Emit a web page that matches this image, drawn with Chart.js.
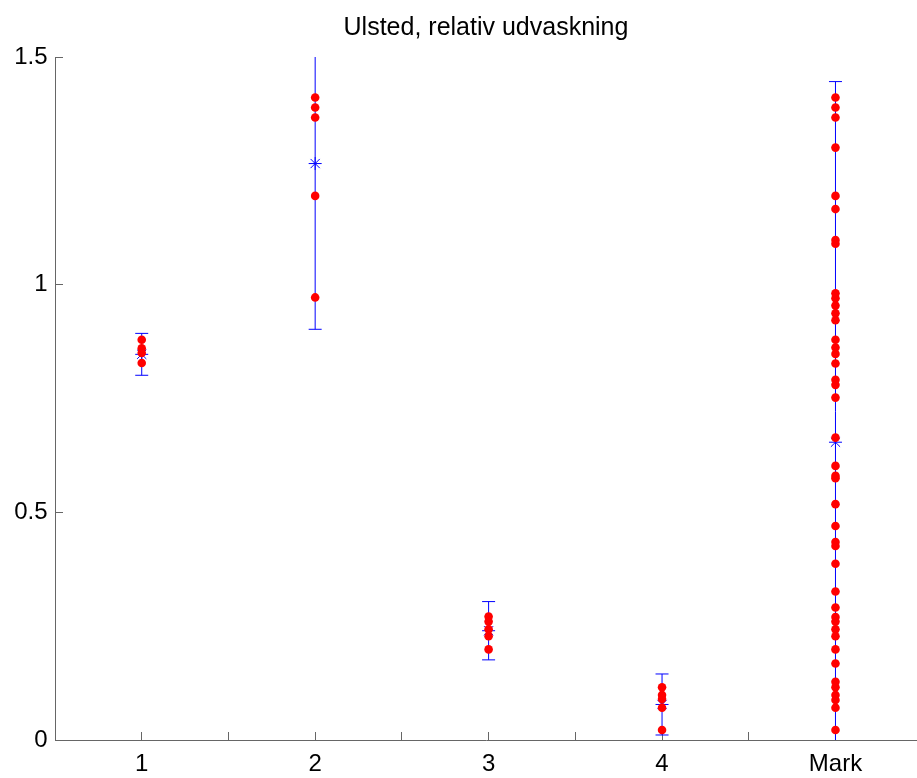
<!DOCTYPE html>
<html>
<head>
<meta charset="utf-8">
<title>Ulsted, relativ udvaskning</title>
<script src="https://cdn.jsdelivr.net/npm/chart.js@4"></script>
<style>
  html, body { margin: 0; padding: 0; background: #fff; overflow: hidden; }
  #chart-block { display: block; }
</style>
</head>
<body>
<canvas id="chart-block" width="917" height="778"></canvas>
<script>
// categories on the x axis (placed at 1..5)
const categories = ['1', '2', '3', '4', 'Mark'];
const yTickLabels = ['0', '0.5', '1', '1.5'];

// individual measurements per category
const group1 = [0.879, 0.860, 0.850, 0.828];
const group2 = [1.411, 1.389, 1.367, 1.195, 0.972];
const group3 = [0.271, 0.260, 0.243, 0.228, 0.199];
const group4 = [0.116, 0.099, 0.090, 0.071, 0.022];
const groupMark = [1.411, 1.389, 1.367, 1.301, 1.195, 1.166, 1.098, 1.090,
  0.981, 0.970, 0.954, 0.937, 0.922, 0.879, 0.862, 0.848, 0.827, 0.791, 0.780,
  0.752, 0.664, 0.602, 0.580, 0.575, 0.518, 0.470, 0.435, 0.426, 0.387, 0.326,
  0.291, 0.270, 0.260, 0.243, 0.228, 0.199, 0.168, 0.128, 0.116, 0.099, 0.088,
  0.071, 0.022];

// mean and error (half length of bar) per category
const means = [0.847, 1.266, 0.240, 0.078, 0.654];
const errors = [0.046, 0.364, 0.064, 0.067, 0.792];

const groups = [group1, group2, group3, group4, groupMark];

let dots = [];
groups.forEach((vals, i) => {
  vals.forEach(v => dots.push({x: i + 1, y: v}));
});

let meanPts = means.map((m, i) => ({x: i + 1, y: m}));

let barLines = [];
let caps = [];
means.forEach((m, i) => {
  barLines.push({x: i + 1, y: m - errors[i]});
  barLines.push({x: i + 1, y: m + errors[i]});
  barLines.push({x: i + 1, y: null});
  caps.push({x: i + 1, y: m - errors[i]});
  caps.push({x: i + 1, y: m + errors[i]});
});

const font = "'Liberation Sans', Arial, Helvetica, sans-serif";
const axisColor = '#666';

let ctx = document.getElementById('chart-block').getContext('2d');
let chart = new Chart(ctx, {
  type: 'scatter',
  data: {
    datasets: [
      {
        label: 'values',
        data: dots,
        order: 0,
        pointRadius: 4.3,
        pointHoverRadius: 4.3,
        pointBackgroundColor: '#ff0000',
        pointBorderColor: '#ff0000',
        pointBorderWidth: 0,
        showLine: false
      },
      {
        label: 'mean',
        data: meanPts,
        order: 1,
        pointStyle: 'star',
        pointRadius: 6.5,
        pointBorderColor: '#0000ff',
        pointBackgroundColor: '#0000ff',
        pointBorderWidth: 1,
        showLine: false
      },
      {
        label: 'errorbar',
        data: barLines,
        order: 2,
        showLine: true,
        spanGaps: false,
        borderColor: '#0000ff',
        borderWidth: 1,
        pointRadius: 0
      },
      {
        label: 'caps',
        data: caps,
        order: 2,
        pointStyle: 'line',
        pointRadius: 6.5,
        pointBorderColor: '#0000ff',
        pointBorderWidth: 1,
        showLine: false
      }
    ]
  },
  options: {
    responsive: false,
    animation: false,
    layout: { padding: 0, autoPadding: false },
    plugins: {
      legend: { display: false },
      tooltip: { enabled: false },
      title: {
        display: true,
        text: 'Ulsted, relativ udvaskning',
        fullSize: false,
        color: '#000',
        font: { family: font, size: 25, weight: 'normal', lineHeight: 1.2 },
        padding: { top: 13, bottom: 14 }
      }
    },
    scales: {
      x: {
        type: 'linear',
        position: 'bottom',
        min: 0.5,
        max: 5.47,
        afterFit: s => { s.height = 38; s.paddingLeft = 0; s.paddingRight = 0; },
        grid: { drawOnChartArea: false, drawTicks: true, tickLength: -8, color: axisColor },
        border: { color: axisColor, width: 1 },
        ticks: {
          stepSize: 0.5,
          includeBounds: false,
          autoSkip: false,
          maxRotation: 0,
          padding: 18,
          color: '#000',
          font: { family: font, size: 24 },
          callback: v => {
            let r = Math.round(v);
            return Math.abs(v - r) < 1e-6 && r >= 1 ? categories[r - 1] : '';
          }
        }
      },
      y: {
        min: 0,
        max: 1.5,
        afterFit: s => { s.width = 55; },
        grid: { drawOnChartArea: false, drawTicks: true, tickLength: -8, color: axisColor },
        border: { color: axisColor, width: 1 },
        ticks: {
          stepSize: 0.5,
          padding: 15.5,
          color: '#000',
          font: { family: font, size: 24 },
          callback: (v, i) => yTickLabels[i]
        }
      }
    }
  }
});
</script>
</body>
</html>
